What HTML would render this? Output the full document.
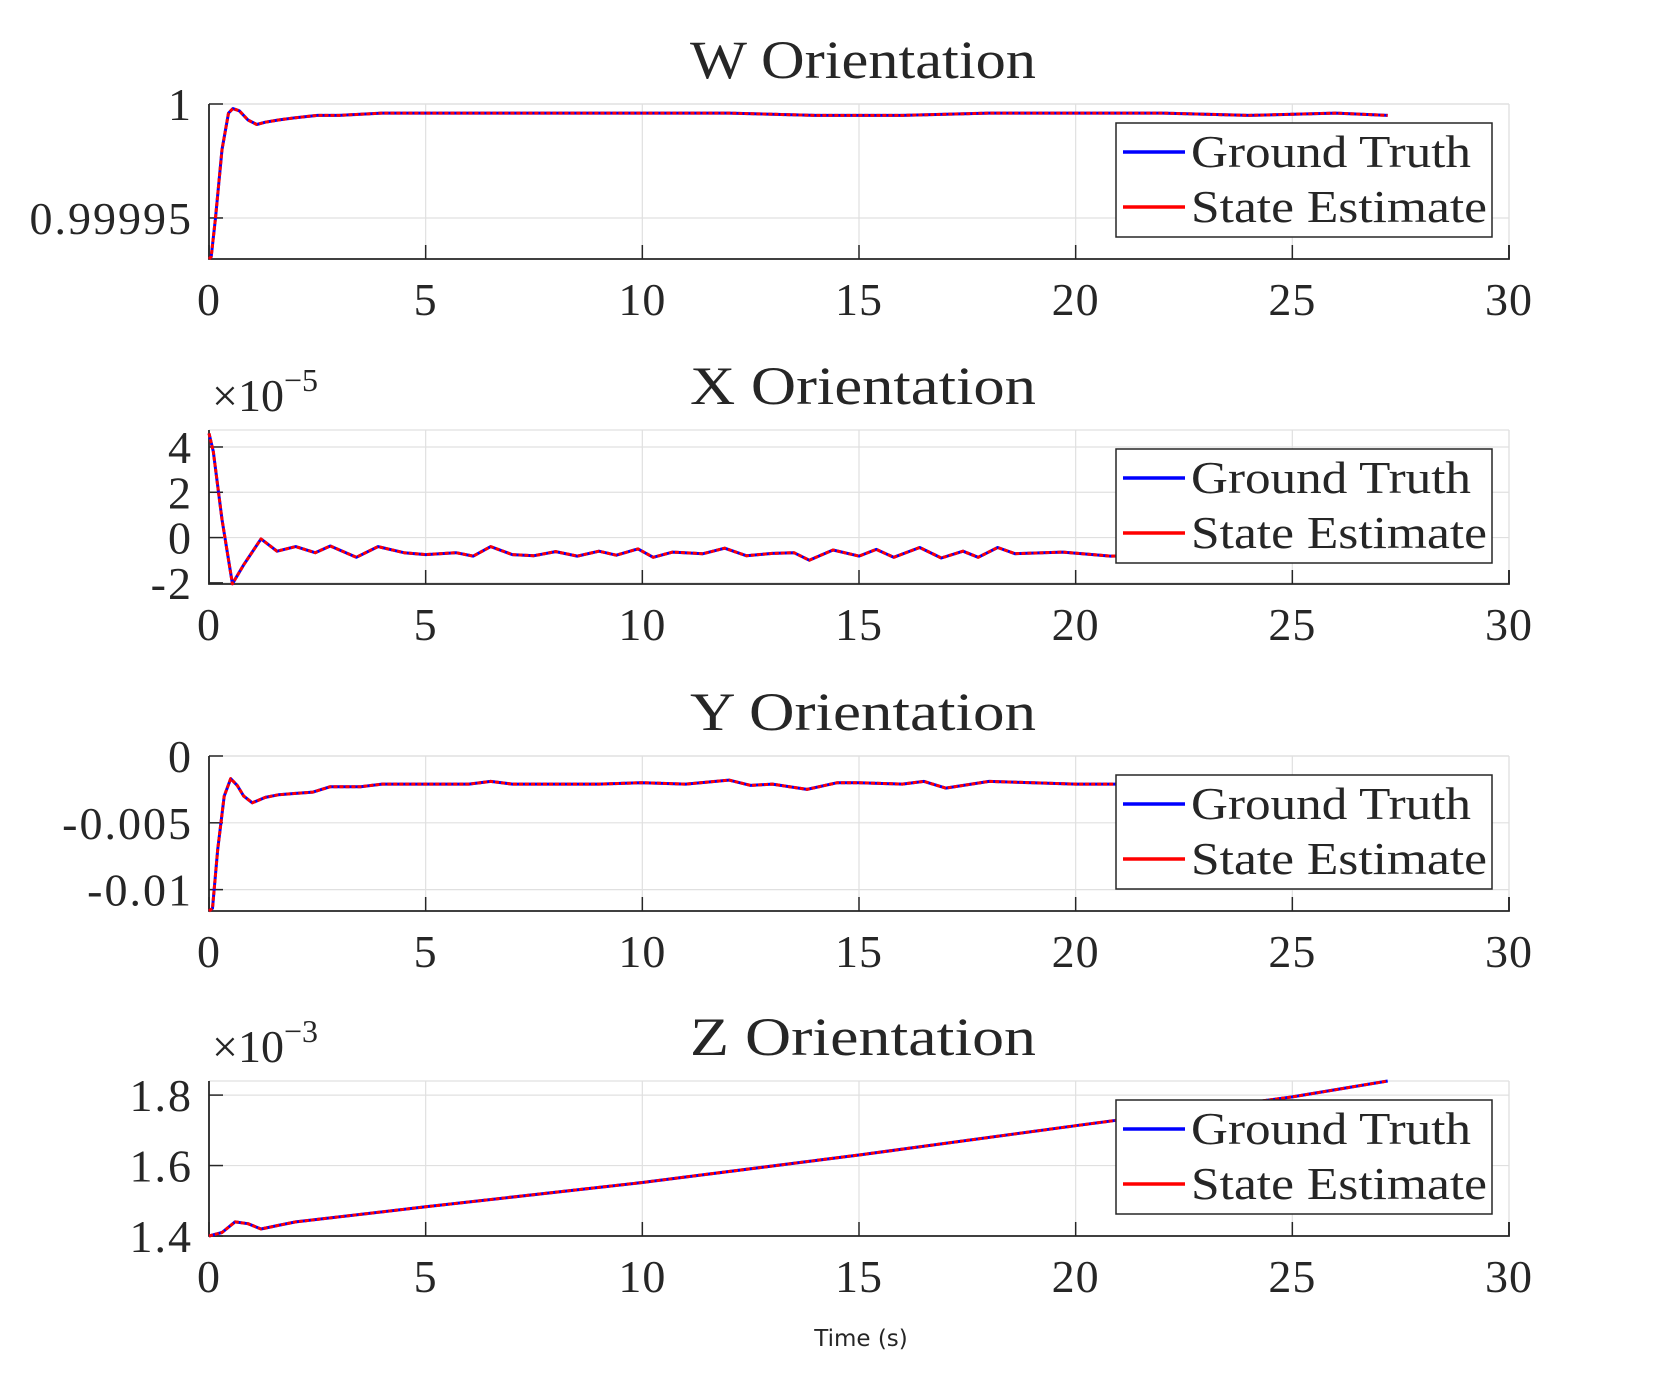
<!DOCTYPE html>
<html><head><meta charset="utf-8"><style>
html,body{margin:0;padding:0;background:#fff;}
svg{display:block;}
text{font-family:"Liberation Serif",serif;fill:#262626;}
</style></head><body>
<svg id="fig" width="1667" height="1389" viewBox="0 0 1667 1389" xmlns="http://www.w3.org/2000/svg"></svg>
<script>
// ---- data ----
const xTicks = [0,5,10,15,20,25,30];
const wTime = [0,0.05,0.15,0.3,0.45,0.55,0.7,0.9,1.1,1.3,1.6,2,2.5,3,4,6,8,10,12,14,16,18,20,22,24,26,27.2];
const wVals = [0.999932,0.999933,0.99995,0.99998,0.999996,0.999998,0.999997,0.999993,0.999991,0.999992,0.999993,0.999994,0.999995,0.999995,0.999996,0.999996,0.999996,0.999996,0.999996,0.999995,0.999995,0.999996,0.999996,0.999996,0.999995,0.999996,0.999995];
const wTickVals = [0.99995,1];
const wTickLabels = ["0.99995","1"];

const xTime = [0,0.1,0.3,0.54,0.8,1.2,1.57,2.0,2.45,2.8,3.4,3.9,4.5,5,5.7,6.1,6.5,7,7.5,8,8.5,9,9.4,9.9,10.25,10.7,11.4,11.9,12.4,13,13.5,13.85,14.4,15,15.4,15.8,16.4,16.9,17.4,17.75,18.2,18.6,19.7,20.4,20.8,22,24,26,27.2];
const xVals = [4.6,3.8,0.8,-2.04,-1.2,-0.06,-0.6,-0.4,-0.67,-0.37,-0.87,-0.4,-0.67,-0.75,-0.67,-0.82,-0.4,-0.75,-0.8,-0.62,-0.82,-0.6,-0.78,-0.5,-0.87,-0.64,-0.71,-0.47,-0.8,-0.7,-0.67,-1.0,-0.55,-0.82,-0.52,-0.87,-0.44,-0.9,-0.6,-0.87,-0.44,-0.71,-0.64,-0.75,-0.82,-0.8,-0.8,-0.8,-0.8];
const xTickVals = [-2,0,2,4];
const xTickLabels = ["-2","0","2","4"];

const yTime = [0,0.08,0.2,0.35,0.5,0.65,0.8,1.0,1.3,1.6,2,2.4,2.8,3.5,4,5,6,6.5,7,8,9,10,11,12,12.5,13,13.8,14.5,15,16,16.5,17,18,19,20,21,23,25,27.2];
const yVals = [-0.0116,-0.0114,-0.007,-0.003,-0.0017,-0.0022,-0.003,-0.0035,-0.0031,-0.0029,-0.0028,-0.0027,-0.0023,-0.0023,-0.0021,-0.0021,-0.0021,-0.0019,-0.0021,-0.0021,-0.0021,-0.002,-0.0021,-0.0018,-0.0022,-0.0021,-0.0025,-0.002,-0.002,-0.0021,-0.0019,-0.0024,-0.0019,-0.002,-0.0021,-0.0021,-0.0021,-0.0021,-0.0021];
const yTickVals = [-0.01,-0.005,0];
const yTickLabels = ["-0.01","-0.005","0"];

const zTime = [0,0.3,0.6,0.9,1.2,1.6,2,5,10,15,20,25,27.2];
const zVals = [1.40,1.41,1.44,1.435,1.42,1.43,1.44,1.483,1.552,1.63,1.713,1.795,1.84];
const zTickVals = [1.4,1.6,1.8];
const zTickLabels = ["1.4","1.6","1.8"];

// ---- layout ----
const NS="http://www.w3.org/2000/svg";
const svg=document.getElementById('fig');
const L=209,R=1509,T0=0,T1=30;
function xS(t){return L+(t-T0)/(T1-T0)*(R-L);}
function mk(tag,attrs,parent){const e=document.createElementNS(NS,tag);for(const k in attrs)e.setAttribute(k,attrs[k]);(parent||svg).appendChild(e);return e;}

const panels=[
 {key:'w',title:'W Orientation',top:104,bot:259,ymin:0.999932,ymax:1.0,t:wTime,v:wVals,tv:wTickVals,tl:wTickLabels,exp:null},
 {key:'x',title:'X Orientation',top:430,bot:584,ymin:-2.05,ymax:4.75,t:xTime,v:xVals,tv:xTickVals,tl:xTickLabels,exp:'−5'},
 {key:'y',title:'Y Orientation',top:756,bot:911,ymin:-0.0116,ymax:0,t:yTime,v:yVals,tv:yTickVals,tl:yTickLabels,exp:null},
 {key:'z',title:'Z Orientation',top:1081,bot:1236,ymin:1.4,ymax:1.84,t:zTime,v:zVals,tv:zTickVals,tl:zTickLabels,exp:'−3'}
];

panels.forEach(p=>{
  const g=mk('g',{});
  
  
  const yS=v=>p.bot-(v-p.ymin)/(p.ymax-p.ymin)*(p.bot-p.top);
  xTicks.forEach(t=>{const l=mk('line',{x1:xS(t),x2:xS(t),y1:p.top,y2:p.bot,stroke:'#e0e0e0','stroke-width':1.2},g);
    });
  p.tv.forEach(v=>{const l=mk('line',{x1:L,x2:R,y1:yS(v),y2:yS(v),stroke:'#e0e0e0','stroke-width':1.2},g);
    });
  mk('line',{x1:L,x2:R,y1:p.top,y2:p.top,stroke:'#e0e0e0','stroke-width':1.2},g);
  mk('line',{x1:R,x2:R,y1:p.top,y2:p.bot,stroke:'#e0e0e0','stroke-width':1.2},g);
  const ax=mk('path',{d:`M${L},${p.top}V${p.bot}H${R}V${p.bot-14}`,fill:'none',stroke:'#262626','stroke-width':1.8},g);
  
  xTicks.forEach(t=>{mk('line',{x1:xS(t),x2:xS(t),y1:p.bot,y2:p.bot-14,stroke:'#262626','stroke-width':1.5},g);
    const tx=mk('text',{x:xS(t),y:p.bot+56,'text-anchor':'middle','font-size':46,'letter-spacing':1},g);tx.textContent=t;
    });
  p.tv.forEach((v,i)=>{mk('line',{x1:L,x2:L+14,y1:yS(v),y2:yS(v),stroke:'#262626','stroke-width':1.5},g);
    const tx=mk('text',{x:L-16,y:yS(v)+16,'text-anchor':'end','font-size':46,'letter-spacing':2},g);tx.textContent=p.tl[i];
    });
  const ti=mk('text',{x:863,y:p.top-26,'text-anchor':'middle','font-size':54,textLength:346,lengthAdjust:'spacingAndGlyphs'},g);ti.textContent=p.title;
  
  if(p.exp){const ex=mk('text',{x:212,y:p.top-19,'font-size':46},g);
    ex.innerHTML='×10<tspan dy="-20" font-size="32">'+p.exp+'</tspan>';
    }
  const pts=p.t.map((t,i)=>xS(t).toFixed(1)+','+yS(p.v[i]).toFixed(1)).join(' ');
  const b=mk('polyline',{points:pts,fill:'none',stroke:'#0000ff','stroke-width':3,'stroke-linejoin':'round'},g);
  
  const r=mk('polyline',{points:pts,fill:'none',stroke:'#ff0000','stroke-width':3,'stroke-dasharray':'4 2','stroke-linejoin':'round'},g);
  
  const lg=mk('g',{transform:'translate(-6,0)'},g);
  mk('rect',{x:1122,y:p.top+19,width:376,height:114,fill:'#fff',stroke:'#262626','stroke-width':1.5},lg);
  const e1=mk('line',{x1:1129,x2:1191,y1:p.top+48,y2:p.top+48,stroke:'#0000ff','stroke-width':3.5},lg);
  
  const e2=mk('line',{x1:1129,x2:1191,y1:p.top+103,y2:p.top+103,stroke:'#ff0000','stroke-width':3.5},lg);
  
  const l1=mk('text',{x:1197,y:p.top+63,'font-size':46,textLength:280,lengthAdjust:'spacingAndGlyphs'},lg);l1.textContent='Ground Truth';
  
  const l2=mk('text',{x:1197,y:p.top+118,'font-size':46,textLength:296,lengthAdjust:'spacingAndGlyphs'},lg);l2.textContent='State Estimate';
  
});
const xl=mk('text',{x:861,y:1346,'text-anchor':'middle','font-size':23,style:'font-family:"DejaVu Sans",sans-serif'});
xl.textContent='Time (s)';


</script>
</body></html>
